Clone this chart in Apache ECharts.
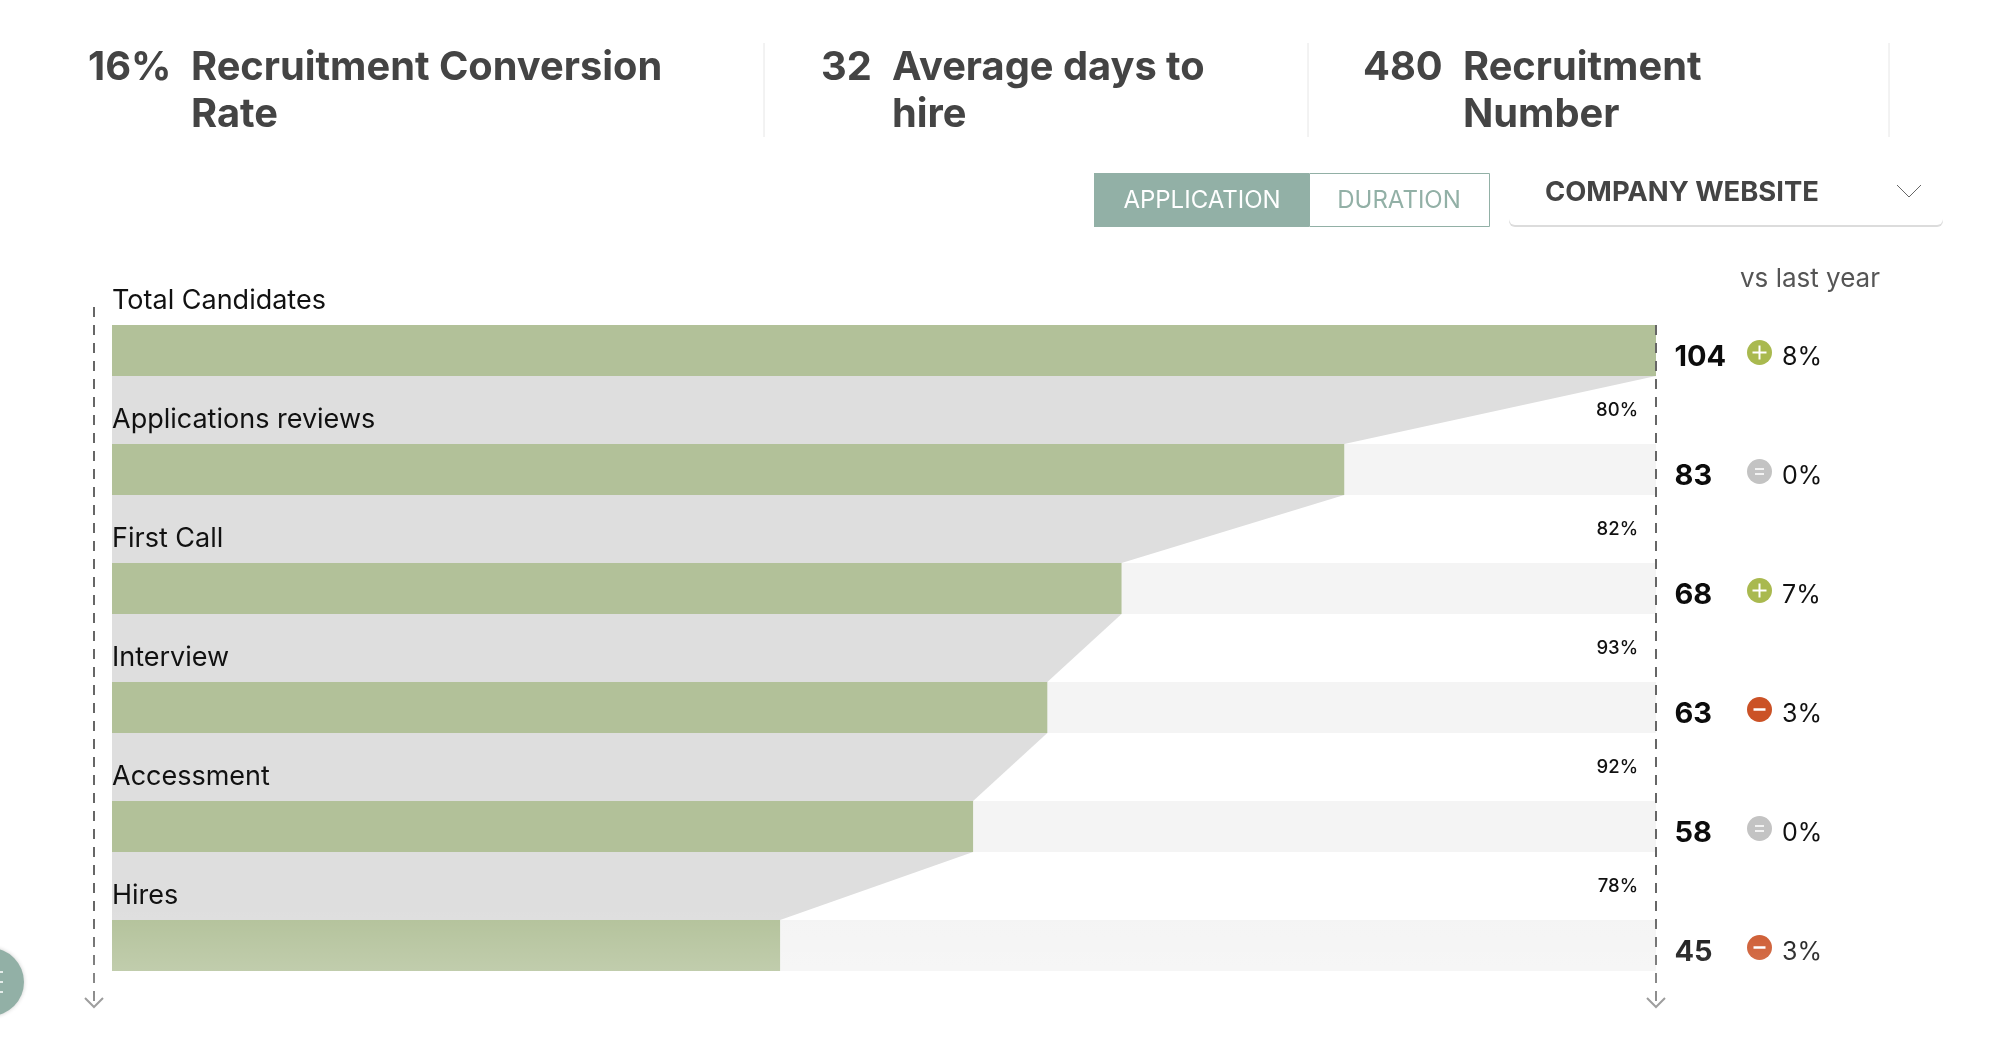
<!DOCTYPE html>
<html>
<head>
<meta charset="utf-8">
<title>Recruitment funnel</title>
<script src="https://cdn.jsdelivr.net/npm/echarts@6/dist/echarts.min.js"></script>
<style>
	html, body { margin: 0; padding: 0; background: #fff; }
	#main { width: 2014px; height: 1060px; }
</style>
</head>
<body>
<div id="main"></div>
<script>
var kpiValues = ['16%', '32', '480'];
var kpiLines = [['Recruitment Conversion', 'Rate'], ['Average days to', 'hire'], ['Recruitment', 'Number']];
var tabLabels = ['APPLICATION', 'DURATION'];
var sourceLabel = 'COMPANY WEBSITE';
var compareLabel = 'vs last year';

var stages = ['Total Candidates', 'Applications reviews', 'First Call', 'Interview', 'Accessment', 'Hires'];
var counts = [104, 83, 68, 63, 58, 45];
var stepRates = ['80%', '82%', '93%', '92%', '78%'];
var changes = ['8%', '0%', '7%', '3%', '0%', '3%'];
var changeKinds = ['up', 'same', 'up', 'down', 'same', 'down'];

var FONT = 'Inter';
var BAR_H = 51;
var kindColor = { up: '#a9b94f', same: '#c3c3c3', down: '#cb5226' };

// funnel between two rows, goes from the end of one bar to the end of the next
function renderConnector(params, api) {
	var i = api.value(2);
	var a = api.coord([api.value(0), i]);
	var b = api.coord([api.value(1), i + 1]);
	var left = params.coordSys.x;
	return {
		type: 'polygon',
		shape: { points: [[left, a[1] + BAR_H / 2], [a[0], a[1] + BAR_H / 2], [b[0], b[1] - BAR_H / 2], [left, b[1] - BAR_H / 2]] },
		style: { fill: '#dedede' }
	};
}

function renderStageText(params, api) {
	var i = api.value(0);
	var p = api.coord([0, i]);
	var children = [{
		type: 'text',
		style: { x: p[0], y: p[1] - 49.5, text: stages[i], fontFamily: FONT, fontSize: 27, fontWeight: 400, fill: '#111', textVerticalAlign: 'middle' }
	}];
	if (i > 0) {
		children.push({
			type: 'text',
			style: { x: params.coordSys.x + params.coordSys.width - 18, y: p[1] - 59.5, text: stepRates[i - 1], fontFamily: FONT, fontSize: 18.5, fontWeight: 500, fill: '#111', textAlign: 'right', textVerticalAlign: 'middle' }
		});
	}
	return { type: 'group', children: children };
}

// count, icon and percent on the right of each row
function renderRowEnd(params, api) {
	var i = api.value(0);
	var y = api.coord([0, i])[1];
	var x0 = params.coordSys.x + params.coordSys.width;
	var kind = changeKinds[i];
	var cx = x0 + 103.5, cy = y + 2;
	var glyph = [];
	if (kind === 'up') {
		glyph.push({ type: 'rect', shape: { x: cx - 7, y: cy - 1, width: 14, height: 2 }, style: { fill: '#fff' } });
		glyph.push({ type: 'rect', shape: { x: cx - 1, y: cy - 7, width: 2, height: 14 }, style: { fill: '#fff' } });
	} else if (kind === 'down') {
		glyph.push({ type: 'rect', shape: { x: cx - 6, y: cy - 1.25, width: 12, height: 2.5 }, style: { fill: '#fff' } });
	} else {
		glyph.push({ type: 'rect', shape: { x: cx - 4.5, y: cy - 3.5, width: 9, height: 2 }, style: { fill: 'rgba(255,255,255,.8)' } });
		glyph.push({ type: 'rect', shape: { x: cx - 4.5, y: cy + 1.5, width: 9, height: 2 }, style: { fill: 'rgba(255,255,255,.8)' } });
	}
	return {
		type: 'group',
		children: [
			{ type: 'text', style: { x: x0 + 18.5, y: y + 7, text: String(counts[i]), fontFamily: FONT, fontSize: 29, fontWeight: 700, fill: '#0c0c0c', textVerticalAlign: 'middle' } },
			{ type: 'circle', shape: { cx: cx, cy: cy, r: 12.5 }, style: { fill: kindColor[kind] } }
		].concat(glyph).concat([
			{ type: 'text', style: { x: x0 + 126, y: y + 7, text: changes[i], fontFamily: FONT, fontSize: 25, fontWeight: 400, fill: '#111', textVerticalAlign: 'middle' } }
		])
	};
}

function txt(x, y, text, size, weight, fill, align) {
	return { type: 'text', z: 10, silent: true, style: { x: x, y: y, text: text, fontFamily: FONT, fontSize: size, fontWeight: weight, fill: fill, textAlign: align || 'left', textVerticalAlign: 'middle' } };
}
function dashed(x, y1, y2) {
	return [
		{ type: 'line', z: 12, silent: true, shape: { x1: x, y1: y1, x2: x, y2: y2 }, style: { stroke: '#666', lineWidth: 2, lineDash: [10, 8] } },
		{ type: 'polyline', z: 12, silent: true, shape: { points: [[x - 9, 998], [x, 1007], [x + 9, 998]] }, style: { stroke: '#777', lineWidth: 2, fill: null } }
	];
}

var kpiX = [[88, 191], [821, 892], [1363, 1463]];
var graphics = [];
kpiValues.forEach(function (v, i) {
	graphics.push(txt(kpiX[i][0], 68, v, 39.8, 700, '#444'));
	graphics.push(txt(kpiX[i][1], 68, kpiLines[i][0], 39.8, 700, '#444'));
	graphics.push(txt(kpiX[i][1], 115, kpiLines[i][1], 39.8, 700, '#444'));
});
[764, 1308, 1889].forEach(function (x) {
	graphics.push({ type: 'line', silent: true, shape: { x1: x, y1: 43, x2: x, y2: 137 }, style: { stroke: '#e6e6e6', lineWidth: 1 } });
});
graphics.push(
	{ type: 'rect', silent: true, shape: { x: 1094, y: 173, width: 215, height: 54 }, style: { fill: '#92b0a6' } },
	{ type: 'rect', silent: true, shape: { x: 1309.5, y: 173.5, width: 180, height: 53 }, style: { fill: '#fff', stroke: '#92b0a6', lineWidth: 1 } },
	txt(1202, 201, tabLabels[0], 24, 400, '#fff', 'center'),
	txt(1399, 201, tabLabels[1], 24, 400, '#92b0a6', 'center'),
	{ type: 'rect', silent: true, shape: { x: 1509, y: 212, width: 434, height: 15, r: 6 }, style: { fill: '#dcdcdc' } },
	{ type: 'rect', silent: true, shape: { x: 1509, y: 208, width: 434, height: 17, r: 6 }, style: { fill: '#fff' } },
	txt(1545, 192.5, sourceLabel, 27.4, 700, '#444'),
	{ type: 'polyline', silent: true, shape: { points: [[1897, 185], [1909, 197], [1921, 185]] }, style: { stroke: '#666', lineWidth: 1, fill: null } },
	txt(1740, 279, compareLabel, 26, 400, '#555'),
	{ type: 'circle', silent: true, shape: { cx: -10, cy: 982, r: 34 }, style: { fill: '#92b0a6', shadowBlur: 4, shadowColor: 'rgba(0,0,0,.2)' } },
	{ type: 'rect', silent: true, shape: { x: 0, y: 971, width: 3, height: 2 }, style: { fill: '#e4ecea' } },
	{ type: 'rect', silent: true, shape: { x: 0, y: 981, width: 3, height: 2 }, style: { fill: '#e4ecea' } },
	{ type: 'rect', silent: true, shape: { x: 0, y: 991, width: 3, height: 2 }, style: { fill: '#e4ecea' } }
);
graphics = graphics.concat(dashed(94, 307, 1006), dashed(1656, 325, 1006));
// the page fades out to white towards the bottom
graphics.push({
	type: 'rect', z: 20, silent: true, shape: { x: 30, y: 907, width: 1984, height: 153 },
	style: { fill: new echarts.graphic.LinearGradient(0, 0, 0, 1, [{ offset: 0, color: 'rgba(255,255,255,0)' }, { offset: 1, color: 'rgba(255,255,255,.46)' }]) }
});

var myChart = echarts.init(document.getElementById('main'));
myChart.setOption({
	animation: false,
	backgroundColor: '#fff',
	grid: { left: 112, top: 291, width: 1544, height: 714 },
	xAxis: { type: 'value', min: 0, max: 104, show: false },
	yAxis: { type: 'category', data: stages, inverse: true, show: false },
	graphic: graphics,
	series: [
		{
			type: 'bar',
			data: counts,
			barWidth: BAR_H,
			showBackground: true,
			backgroundStyle: { color: '#f4f4f4' },
			itemStyle: { color: '#b2c199' },
			silent: true,
			z: 2
		},
		{
			type: 'custom',
			data: counts.slice(0, -1).map(function (c, i) { return [c, counts[i + 1], i]; }),
			encode: { x: [0, 1], y: 2 },
			renderItem: renderConnector,
			silent: true,
			z: 1
		},
		{
			type: 'custom',
			data: stages.map(function (s, i) { return [i]; }),
			encode: { y: 0 },
			renderItem: renderStageText,
			silent: true,
			clip: false,
			z: 3
		},
		{
			type: 'custom',
			data: stages.map(function (s, i) { return [i]; }),
			encode: { y: 0 },
			renderItem: renderRowEnd,
			silent: true,
			clip: false,
			z: 3
		}
	]
});
</script>
</body>
</html>
